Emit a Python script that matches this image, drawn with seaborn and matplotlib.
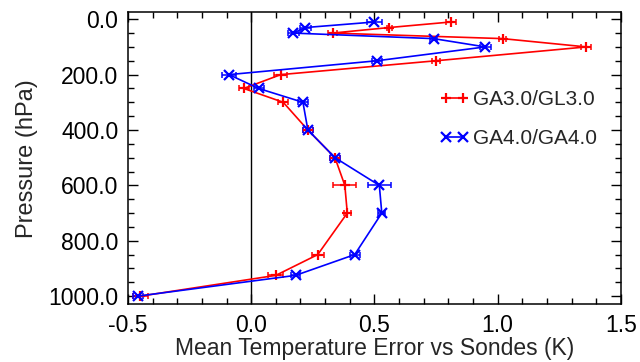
import numpy as np
import pandas as pd
import seaborn as sns
import matplotlib.pyplot as plt
from matplotlib.ticker import MultipleLocator, FormatStrFormatter

# niveles de presion (hPa)
pressure = [10, 30, 50, 70, 100, 150, 200, 250, 300, 400, 500, 600, 700, 850, 925, 1000]

# GA3.0/GL3.0
ga3_mean = [0.81, 0.56, 0.33, 1.02, 1.36, 0.75, 0.12, -0.03, 0.13, 0.23, 0.34, 0.38, 0.39, 0.27, 0.10, -0.45]
ga3_err = [0.02, 0.01, 0.02, 0.015, 0.02, 0.017, 0.027, 0.02, 0.02, 0.02, 0.02, 0.046, 0.015, 0.024, 0.03, 0.03]

# GA4.0/GA4.0
ga4_mean = [0.50, 0.22, 0.17, 0.74, 0.95, 0.51, -0.09, 0.03, 0.21, 0.23, 0.34, 0.52, 0.53, 0.42, 0.18, -0.46]
ga4_err = [0.03, 0.023, 0.022, 0.015, 0.022, 0.02, 0.03, 0.02, 0.02, 0.02, 0.02, 0.047, 0.015, 0.02, 0.02, 0.02]

labels = ['GA3.0/GL3.0', 'GA4.0/GA4.0']
colors = ['red', 'blue']
markers = ['+', 'x']

df = pd.concat([
    pd.DataFrame({'p': pressure, 'err': ga3_mean, 'sd': ga3_err, 'run': labels[0]}),
    pd.DataFrame({'p': pressure, 'err': ga4_mean, 'sd': ga4_err, 'run': labels[1]}),
], ignore_index=True)

sns.set_theme(style="ticks")
plt.rcParams['font.family'] = ['Liberation Sans', 'DejaVu Sans']

fig, ax = plt.subplots(figsize=(6.4, 3.62), dpi=100)
fig.subplots_adjust(left=0.2, right=0.970, top=0.966, bottom=0.159)

ax.axvline(0, color='black', lw=1, zorder=1)

for lab, col, mk in zip(labels, colors, markers):
    d = df[df['run'] == lab]
    # barras de error horizontales
    ax.errorbar(d['err'], d['p'], xerr=d['sd'], fmt='none', ecolor=col,
                elinewidth=1.1, capsize=2, capthick=1.1, zorder=2)
    sns.lineplot(data=d, x='err', y='p', color=col, marker=mk, sort=False,
                 estimator=None, orient='y', linewidth=1.2, markersize=7.5,
                 markeredgecolor=col, markeredgewidth=1.6, label=lab,
                 ax=ax, zorder=3)

ax.set_xlim(-0.5, 1.5)
ax.set_ylim(1030, -25)
ax.xaxis.set_major_locator(MultipleLocator(0.5))
ax.xaxis.set_minor_locator(MultipleLocator(0.1))
ax.yaxis.set_major_locator(MultipleLocator(200))
ax.yaxis.set_minor_locator(MultipleLocator(50))
ax.xaxis.set_major_formatter(FormatStrFormatter('%.1f'))
ax.yaxis.set_major_formatter(FormatStrFormatter('%.1f'))
ax.tick_params(which='both', direction='in', top=True, right=True,
               labelsize=16.5, color='black', labelcolor='black', width=1)
ax.tick_params(which='major', length=7, pad=7)
ax.tick_params(which='minor', length=4)
for s in ax.spines.values():
    s.set_linewidth(1.1)
    s.set_color('black')

ax.set_xlabel('Mean Temperature Error vs Sondes (K)', fontsize=16.5, labelpad=0)
ax.set_ylabel('Pressure (hPa)', fontsize=17, labelpad=7)

h, l = ax.get_legend_handles_labels()
ax.legend(h, l, numpoints=2, frameon=False, fontsize=15, loc='center left',
          bbox_to_anchor=(0.616, 0.635), borderaxespad=0, handlelength=1.4,
          handletextpad=0.2, labelspacing=0.95)

plt.savefig('out.png', dpi=100)
plt.close()
